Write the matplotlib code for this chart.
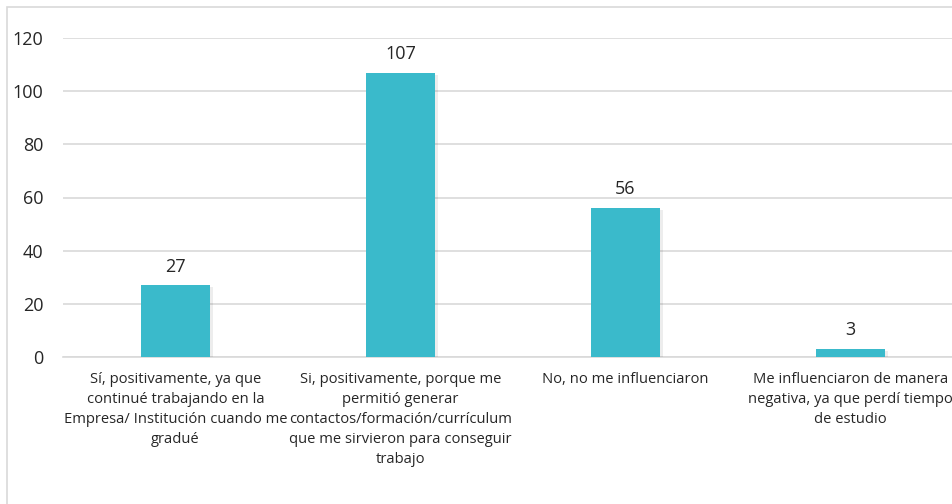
import matplotlib.pyplot as plt
import matplotlib.patheffects as pe
from matplotlib.patches import Rectangle

plt.rcParams['font.family'] = ['Open Sans', 'DejaVu Sans']

categories = [
    "Sí, positivamente, ya que\ncontinué trabajando en la\nEmpresa/ Institución cuando me\ngradué",
    "Si, positivamente, porque me\npermitió generar\ncontactos/formación/currículum\nque me sirvieron para conseguir\ntrabajo",
    "No, no me influenciaron",
    "Me influenciaron de manera\nnegativa, ya que perdí tiempo\nde estudio",
]
values = [27, 107, 56, 3]
yticks = [0, 20, 40, 60, 80, 100, 120]

W, H = 952, 504
fig = plt.figure(figsize=(W / 100, H / 100), dpi=100)

# chart frame (cut off at right and bottom in the reference)
fig.patches.append(Rectangle((7 / W, -0.1), 1.2, 1 - 7 / H + 0.1, transform=fig.transFigure,
                             fill=False, edgecolor='#d9d9d9', linewidth=1.2))

ax = fig.add_axes([63 / W, (H - 357) / H, 900 / W, (357 - 38) / H])
x = range(len(values))
bars = ax.bar(x, values, width=0.31, color='#3abacb', zorder=3)
for b in bars:
    b.set_path_effects([pe.SimplePatchShadow(offset=(2, -1.5), shadow_rgbFace='#000000', alpha=0.07),
                        pe.Normal()])

for xi, v in zip(x, values):
    ax.annotate(str(v), (xi, v), xytext=(0, 7), textcoords='offset points',
                ha='center', va='bottom', fontsize=13, color='#262626')

ax.set_xlim(-0.5, len(values) - 0.5)
ax.set_ylim(0, 120)
ax.set_yticks(yticks)
ax.set_yticklabels([str(t) for t in yticks], fontsize=13, color='#262626')
ax.set_xticks(list(x))
ax.set_xticklabels(categories, fontsize=10.6, color='#262626', linespacing=1.45)
ax.tick_params(axis='y', length=0, pad=14)
ax.tick_params(axis='x', length=0, pad=11)
ax.yaxis.grid(True, color='#d9d9d9', linewidth=1.2, zorder=0)
for s in ['top', 'right', 'left']:
    ax.spines[s].set_visible(False)
ax.spines['bottom'].set_color('#d9d9d9')
ax.spines['bottom'].set_linewidth(1.2)

fig.savefig('out.png', dpi=100)
